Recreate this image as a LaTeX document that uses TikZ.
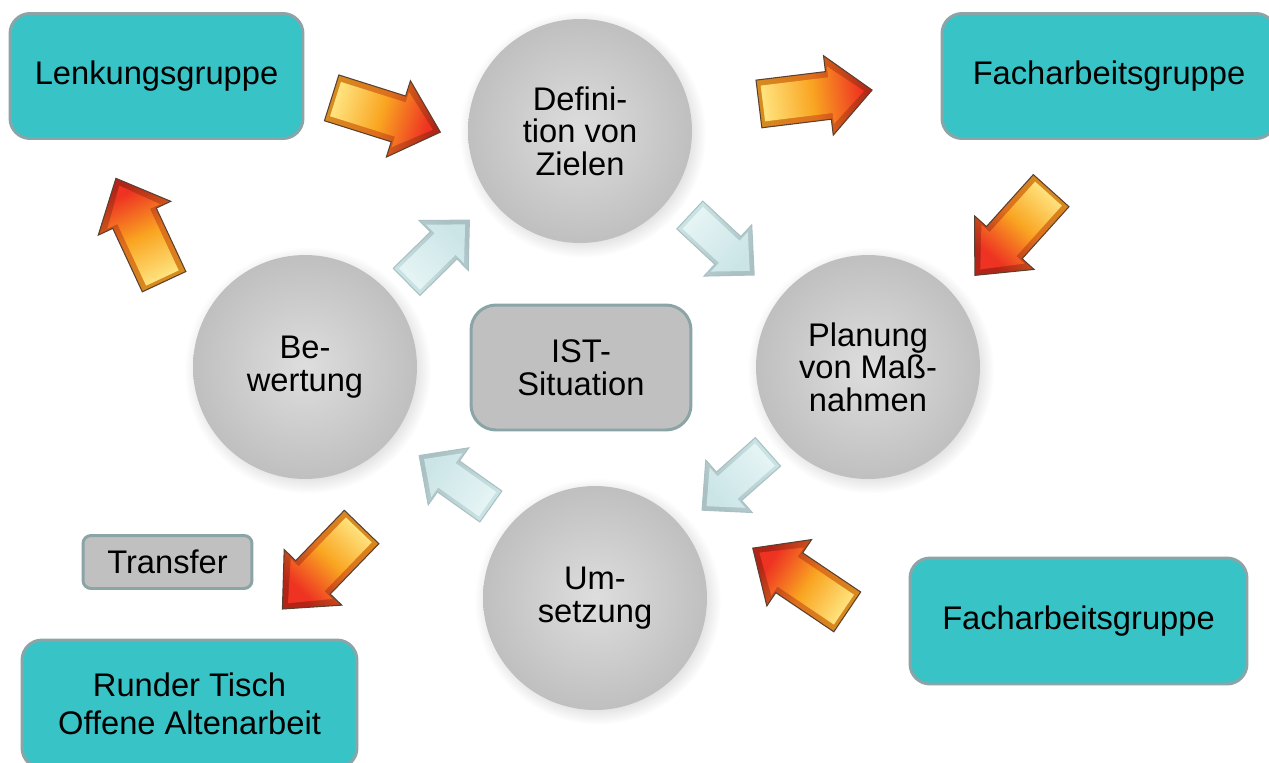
\documentclass[tikz,border=0pt]{standalone}
\usepackage{fontspec}
\setmainfont{Liberation Sans}
\usetikzlibrary{shadows}
\definecolor{tealbox}{RGB}{56,196,199}
\definecolor{rim}{RGB}{138,164,167}
\definecolor{grayfill}{RGB}{192,192,192}
\definecolor{yellowA}{RGB}{255,226,125}
\definecolor{orangeA}{RGB}{249,165,33}
\definecolor{redA}{RGB}{238,51,34}
\definecolor{goldB}{RGB}{214,140,30}
\definecolor{orangeB}{RGB}{222,110,28}
\definecolor{redB}{RGB}{178,36,24}
\definecolor{brownrim}{RGB}{90,64,48}
\definecolor{iceA}{RGB}{230,244,245}
\definecolor{iceB}{RGB}{203,229,231}
\definecolor{icerim}{RGB}{170,192,194}
\tikzset{
  box/.style={draw=rim, line width=1.7pt, fill=tealbox, rounded corners=0.4cm, align=center, inner sep=0pt},
  graybox/.style={draw=rim, line width=1.7pt, fill=grayfill, align=center, inner sep=0pt},
  phase/.style={circle, minimum size=4.48cm, inner sep=0pt, align=center,
    inner color=black!13, outer color=black!25,
    circular drop shadow={shadow xshift=0.05cm, shadow yshift=-0.06cm, opacity=0.25}},
  pics/orangearrow/.style={code={
    \shade[draw=brownrim, line width=0.6pt, top color=redB, bottom color=goldB, middle color=orangeB, shading angle=#1-90]
      (-57,-24) -- (13,-24) -- (13,-40) -- (57,0) -- (13,40) -- (13,24) -- (-57,24) -- cycle;
    \shade[top color=redA, bottom color=yellowA, middle color=orangeA, shading angle=#1-90]
      (-53,-18) -- (15,-18) -- (15,-29) -- (49,0) -- (15,29) -- (15,18) -- (-53,18) -- cycle;
  }},
  pics/icearrow/.style={code={
    \shade[draw=icerim, line width=0.6pt, top color=icerim, bottom color=iceB, shading angle=#1-90]
      (-44,-19) -- (8,-19) -- (8,-35) -- (44,0) -- (8,35) -- (8,19) -- (-44,19) -- cycle;
    \shade[top color=iceB, bottom color=iceA, shading angle=#1-90]
      (-40,-15) -- (10,-15) -- (10,-27) -- (38,0) -- (10,27) -- (10,15) -- (-40,15) -- cycle;
  }}
}
\begin{document}
\begin{tikzpicture}[x=0.02cm, y=-0.02cm, font=\fontsize{18.6pt}{18.5pt}\selectfont]
\useasboundingbox (0,0) rectangle (1269,762);
\node[box, minimum width=5.86cm, minimum height=2.5cm] (lenk) at (156.5,76) {Lenkungsgruppe};
\node[box, minimum width=6.68cm, minimum height=2.5cm] (fach1) at (1109,76) {Facharbeitsgruppe};
\node[box, minimum width=6.74cm, minimum height=2.52cm] (fach2) at (1078.5,621) {Facharbeitsgruppe};
\node[box, minimum width=6.7cm, minimum height=2.56cm] (tisch) at (189.5,704) {Runder Tisch\\[3.4pt]Offene Altenarbeit};
\node[graybox, rounded corners=0.16cm, minimum width=3.38cm, minimum height=1.06cm] (transfer) at (167.5,562) {Transfer};
\node[graybox, rounded corners=0.5cm, minimum width=4.4cm, minimum height=2.5cm] (ist) at (581,367.5) {IST-\\Situation};
\node[phase] (def) at (580,131) {Defini-\\tion von\\Zielen};
\node[phase] (plan) at (868,367) {Planung\\von Maß-\\nahmen};
\node[phase] (ums) at (595,598) {Um-\\setzung};
\node[phase] (bew) at (305,367) {Be-\\wertung};
\foreach \x/\y/\a in {386/115/-17.5, 815.5/97/7, 1013/233/-132, 800/580/146, 322/568/-134, 140/230/115}
  \pic[rotate=\a] at (\x,\y) {orangearrow=\a};
\foreach \x/\y/\a in {438/251/44.5, 722/245/-43, 735/481/-138.5, 455/481/144.6}
  \pic[rotate=\a] at (\x,\y) {icearrow=\a};
\end{tikzpicture}
\end{document}
